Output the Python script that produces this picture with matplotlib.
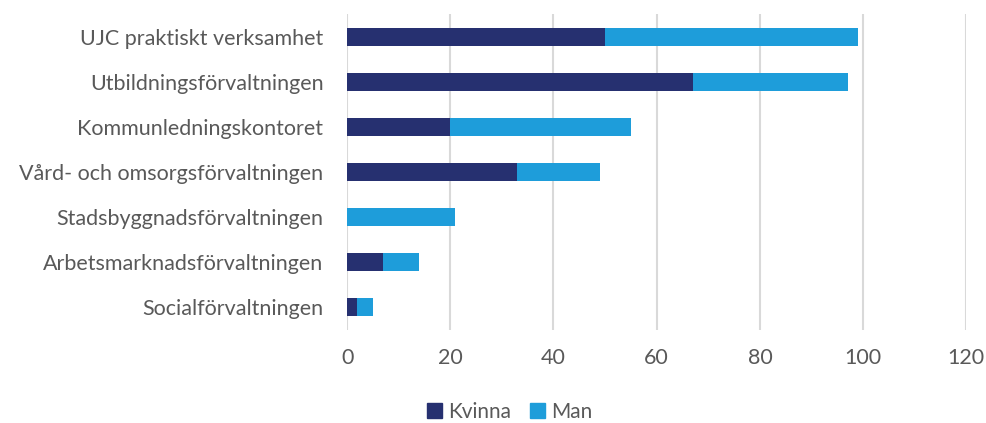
import matplotlib
matplotlib.use("Agg")
import matplotlib.pyplot as plt
from matplotlib.patches import Patch

categories = ["UJC praktiskt verksamhet", "Utbildningsförvaltningen", "Kommunledningskontoret",
              "Vård- och omsorgsförvaltningen", "Stadsbyggnadsförvaltningen",
              "Arbetsmarknadsförvaltningen", "Socialförvaltningen"]
kvinna = [50, 67, 20, 33, 0, 7, 2]
man = [49, 30, 35, 16, 21, 7, 3]
xticks = [0, 20, 40, 60, 80, 100, 120]

plt.rcParams['font.family'] = ['Lato', 'DejaVu Sans']
c_k = "#263070"
c_m = "#1E9DDA"
txt = "#595959"

fig = plt.figure(figsize=(9.86, 4.23), dpi=100)
ax = fig.add_axes([0.352, 0.221, 0.628, 0.745])
y = list(range(len(categories)))
ax.barh(y, kvinna, height=0.4, color=c_k, zorder=3)
ax.barh(y, man, left=kvinna, height=0.4, color=c_m, zorder=3)
ax.set_ylim(len(categories) - 0.5, -0.5)
ax.set_xlim(0, 120)
ax.set_xticks(xticks)
ax.set_yticks(y)
ax.set_yticklabels(categories)
ax.grid(axis='x', color='#D9D9D9', linewidth=1.5, zorder=0)
for s in ax.spines.values():
    s.set_visible(False)
ax.tick_params(axis='both', length=0, colors=txt, labelsize=15.5)
ax.tick_params(axis='x', pad=13)
ax.tick_params(axis='y', pad=17)

handles = [Patch(color=c_k, label="Kvinna"), Patch(color=c_m, label="Man")]
fig.legend(handles=handles, loc='center', bbox_to_anchor=(0.517, 0.026), ncol=2,
           frameon=False, fontsize=15, labelcolor=txt, handlelength=0.7, handleheight=0.7,
           handletextpad=0.3, columnspacing=0.9)
fig.savefig("out.png", dpi=100)
